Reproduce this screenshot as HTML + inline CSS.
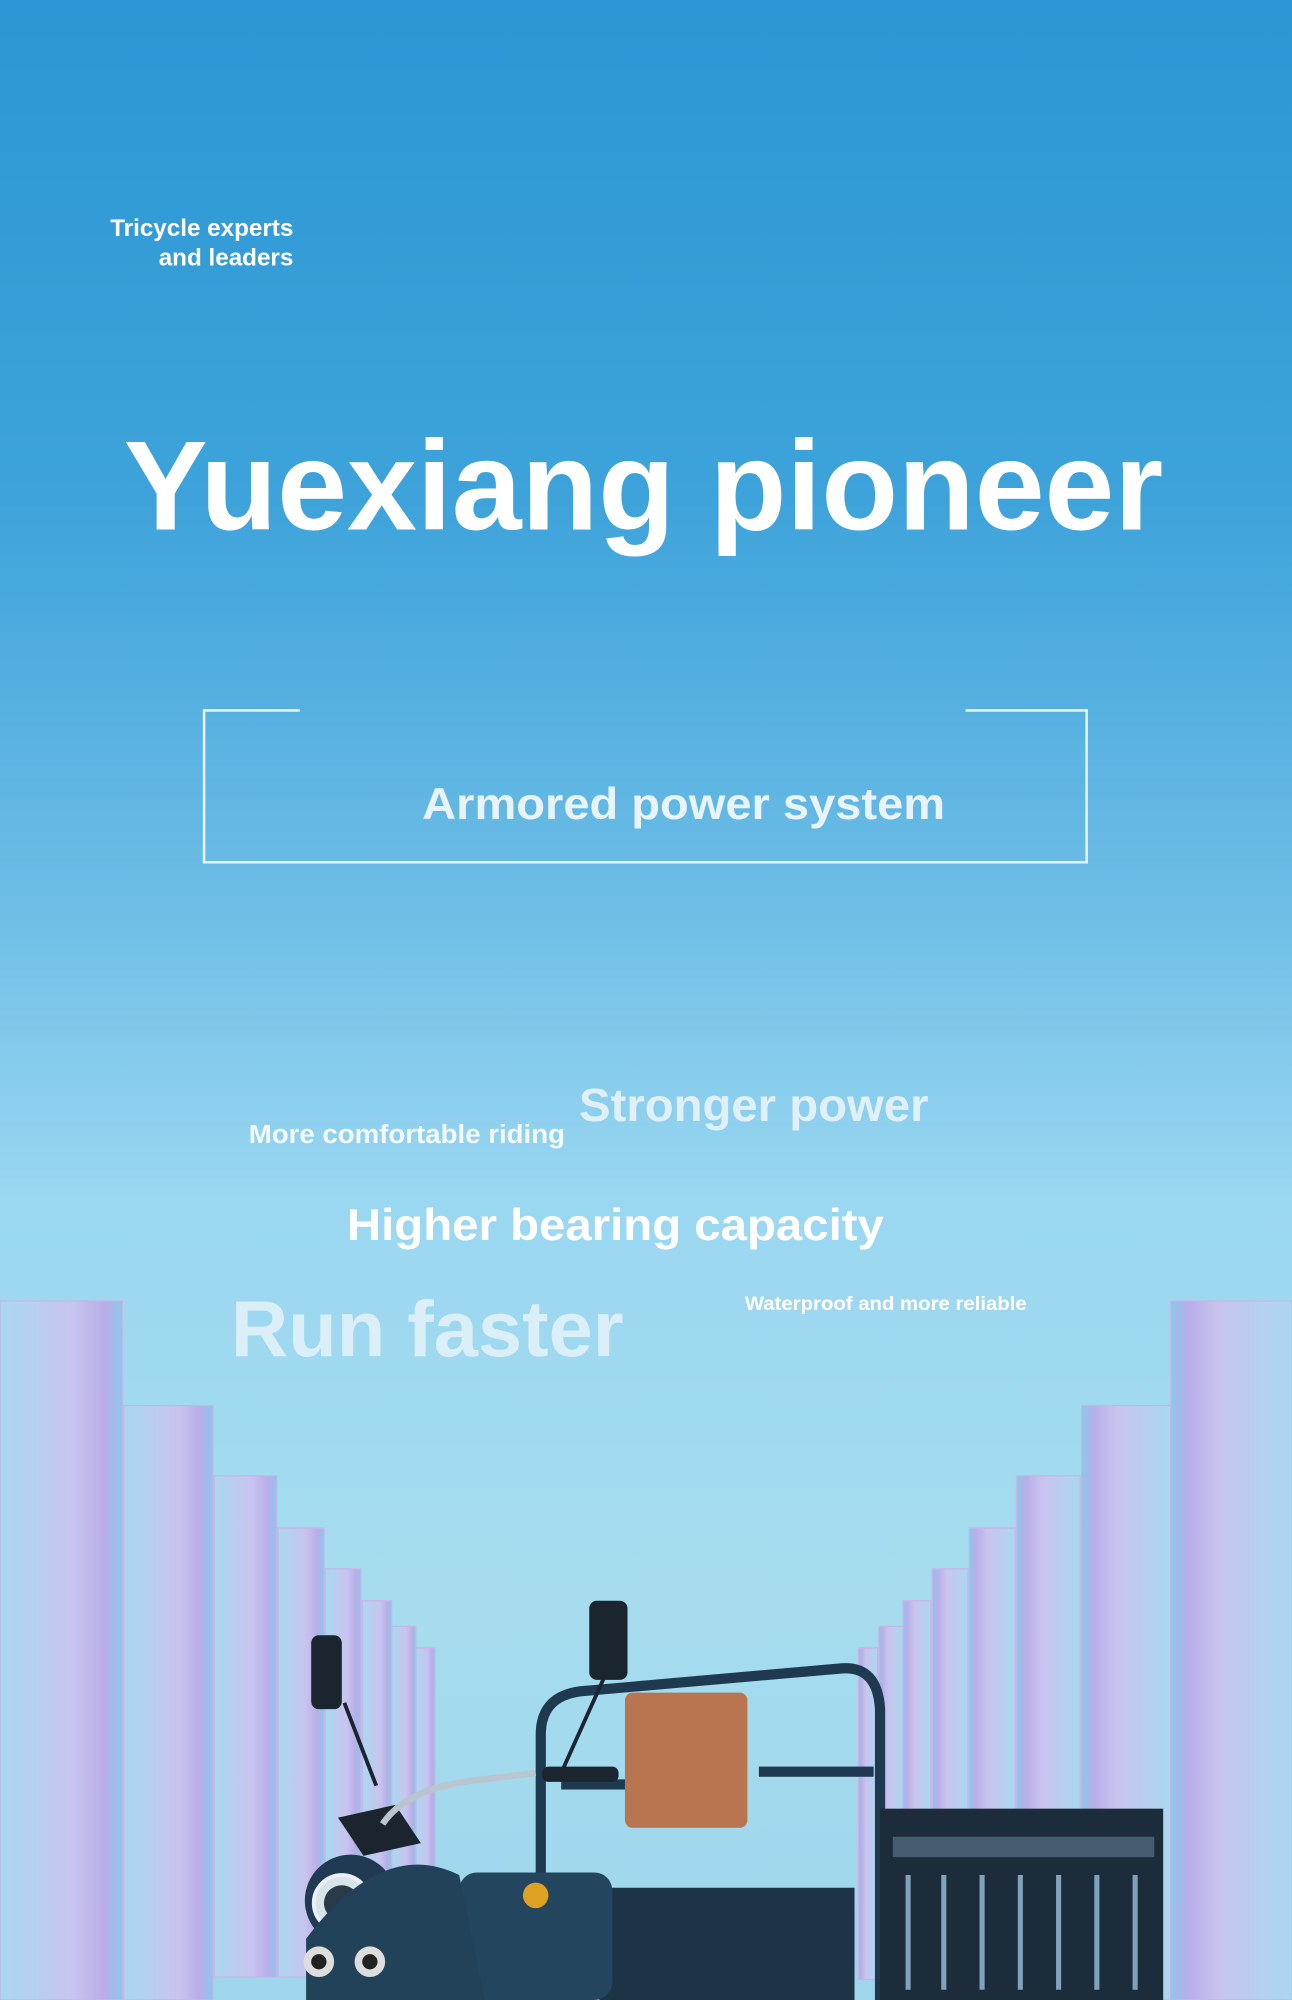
<!DOCTYPE html>
<html><head><meta charset="utf-8"><style>
html,body{margin:0;padding:0;width:1292px;height:2000px;overflow:hidden}
svg{display:block}
text{font-family:"Liberation Sans","DejaVu Sans",sans-serif;font-weight:bold}
</style></head><body>
<svg width="1292" height="2000" viewBox="0 0 1013 1568" preserveAspectRatio="none" xmlns="http://www.w3.org/2000/svg">
<defs>
<linearGradient id="bg" x1="0" y1="0" x2="0" y2="1">
<stop offset="0" stop-color="#2a97d4"/>
<stop offset="0.25" stop-color="#3ea3da"/>
<stop offset="0.45" stop-color="#6dbde6"/>
<stop offset="0.6" stop-color="#9ad7f1"/>
<stop offset="0.8" stop-color="#a6dcee"/>
<stop offset="1" stop-color="#9fd6ec"/>
</linearGradient>
<linearGradient id="pl" x1="0" y1="0" x2="1" y2="0">
<stop offset="0" stop-color="#a9d8f0"/>
<stop offset="0.6" stop-color="#c9c4ef"/>
<stop offset="0.85" stop-color="#b9aee8"/>
<stop offset="1" stop-color="#8cc6ea"/>
</linearGradient>
<linearGradient id="pr" x1="1" y1="0" x2="0" y2="0">
<stop offset="0" stop-color="#a9d8f0"/>
<stop offset="0.6" stop-color="#c9c4ef"/>
<stop offset="0.85" stop-color="#b9aee8"/>
<stop offset="1" stop-color="#8cc6ea"/>
</linearGradient>
</defs>
<rect width="1013" height="1568" fill="url(#bg)"/>
<!-- left pillars (draw far first) -->
<g fill="url(#pl)" stroke="#c6b6e6" stroke-width="1">
<rect x="326" y="1292" width="15" height="260"/>
<rect x="307" y="1275" width="19" height="275"/>
<rect x="284" y="1255" width="23" height="295"/>
<rect x="255" y="1230" width="28" height="320"/>
<rect x="218" y="1198" width="36" height="352"/>
<rect x="168" y="1157" width="49" height="393"/>
<rect x="97" y="1102" width="70" height="466"/>
<rect x="0" y="1020" width="96" height="548"/>
</g>
<g fill="url(#pr)" stroke="#c6b6e6" stroke-width="1">
<rect x="673" y="1292" width="15" height="260"/>
<rect x="689" y="1275" width="19" height="275"/>
<rect x="708" y="1255" width="22" height="295"/>
<rect x="731" y="1230" width="28" height="320"/>
<rect x="760" y="1198" width="36" height="352"/>
<rect x="797" y="1157" width="50" height="393"/>
<rect x="848" y="1102" width="70" height="466"/>
<rect x="918" y="1020" width="95" height="548"/>
</g>
<!-- tricycle -->
<g>
<path d="M424 1568 L424 1360 Q424 1330 455 1326 L660 1308 Q688 1306 690 1340 L690 1568" fill="none" stroke="#1f3a50" stroke-width="8"/>
<rect x="490" y="1327" width="96" height="106" rx="6" fill="#b87550"/>
<rect x="474" y="1520" width="120" height="30" rx="6" fill="#b87550"/>
<rect x="690" y="1418" width="222" height="150" fill="#1c2c3a"/>
<rect x="700" y="1440" width="205" height="16" fill="#6b8ea6" opacity="0.5"/>
<g stroke="#7fa2bd" stroke-width="4"><line x1="712" y1="1470" x2="712" y2="1560"/><line x1="740" y1="1470" x2="740" y2="1560"/><line x1="770" y1="1470" x2="770" y2="1560"/><line x1="800" y1="1470" x2="800" y2="1560"/><line x1="830" y1="1470" x2="830" y2="1560"/><line x1="860" y1="1470" x2="860" y2="1560"/><line x1="890" y1="1470" x2="890" y2="1560"/></g>
<rect x="440" y="1395" width="50" height="8" fill="#1f3a50"/>
<rect x="595" y="1385" width="90" height="8" fill="#1f3a50"/>
<rect x="470" y="1480" width="200" height="88" fill="#1d3447"/>
<rect x="360" y="1468" width="120" height="100" rx="14" fill="#23455e"/>
<circle cx="275" cy="1490" r="36" fill="#1f3a52"/>
<circle cx="268" cy="1492" r="22" fill="#d8e4ea" stroke="#eef" stroke-width="3"/>
<circle cx="268" cy="1492" r="14" fill="#2a3a48"/>
<path d="M240 1568 L240 1520 Q300 1440 360 1470 L380 1568Z" fill="#22425a"/>
<circle cx="250" cy="1538" r="12" fill="#ddd"/><circle cx="290" cy="1538" r="12" fill="#ddd"/>
<circle cx="250" cy="1538" r="6" fill="#222"/><circle cx="290" cy="1538" r="6" fill="#222"/>
<path d="M265 1425 L310 1415 L330 1445 L285 1455Z" fill="#1b2530"/>
<path d="M300 1430 Q320 1400 380 1395 L420 1390" fill="none" stroke="#b9c5cf" stroke-width="5"/>
<rect x="425" y="1385" width="60" height="12" rx="5" fill="#1b2530"/>
<line x1="270" y1="1335" x2="295" y2="1400" stroke="#1b2530" stroke-width="3"/>
<line x1="485" y1="1290" x2="440" y2="1390" stroke="#1b2530" stroke-width="3"/>
<rect x="244" y="1282" width="24" height="58" rx="6" fill="#1b2530"/>
<rect x="462" y="1255" width="30" height="62" rx="6" fill="#1b2530"/>
<circle cx="420" cy="1486" r="10" fill="#e0a020"/>
</g>
<!-- text -->
<g fill="#ffffff">
<text x="230" y="185" font-size="19" text-anchor="end">Tricycle experts</text>
<text x="230" y="208" font-size="19" text-anchor="end">and leaders</text>
<text x="97" y="415" font-size="100" textLength="815" lengthAdjust="spacingAndGlyphs">Yuexiang pioneer</text>
</g>
<path d="M235 557 L160 557 L160 676 L852 676 L852 557 L757 557" fill="none" stroke="#e6f2fa" stroke-width="2"/>
<text x="331" y="642" font-size="35" fill="#e8f3fa" textLength="410" lengthAdjust="spacingAndGlyphs">Armored power system</text>
<text x="454" y="879" font-size="36" fill="#e0f0f8" textLength="274" lengthAdjust="spacingAndGlyphs">Stronger power</text>
<text x="195" y="896" font-size="20" fill="#f4fafd" textLength="248" lengthAdjust="spacingAndGlyphs">More comfortable riding</text>
<text x="272" y="972" font-size="35" fill="#ffffff" textLength="421" lengthAdjust="spacingAndGlyphs">Higher bearing capacity</text>
<text x="181" y="1063" font-size="62" fill="#dbeff9" textLength="308" lengthAdjust="spacingAndGlyphs">Run faster</text>
<text x="584" y="1027" font-size="15" fill="#ffffff" textLength="221" lengthAdjust="spacingAndGlyphs">Waterproof and more reliable</text>
</svg>
</body></html>
